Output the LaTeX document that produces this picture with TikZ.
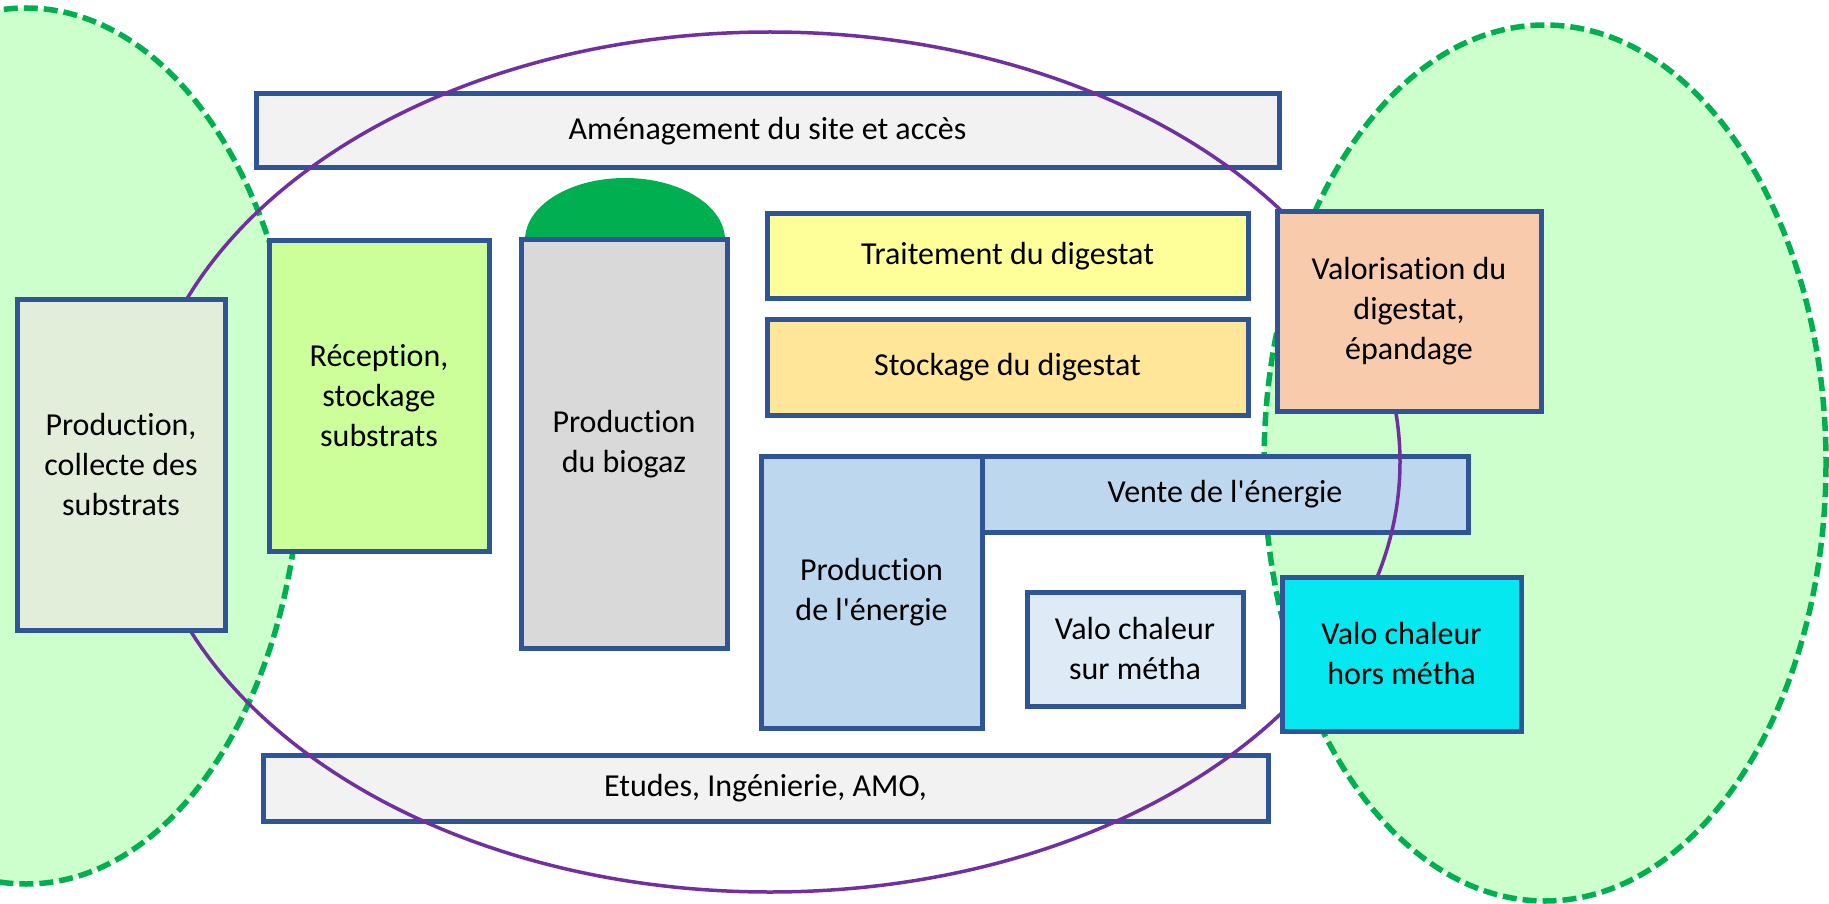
\documentclass[tikz,border=0pt]{standalone}
\usepackage{fontspec}
\newfontfamily\carl{Carlito}[Ligatures=NoCommon]
\definecolor{cGreenFill}{HTML}{CCFFCC}
\definecolor{cGreenLine}{HTML}{00B050}
\definecolor{cPurple}{HTML}{7030A0}
\definecolor{cBorder}{HTML}{2F5597}
\definecolor{cAmen}{HTML}{F2F2F2}
\definecolor{cCollecte}{HTML}{E2EED9}
\definecolor{cRecep}{HTML}{CCFF99}
\definecolor{cBiogaz}{HTML}{D9D9D9}
\definecolor{cDome}{HTML}{00B050}
\definecolor{cTrait}{HTML}{FFFF99}
\definecolor{cStock}{HTML}{FFE699}
\definecolor{cValor}{HTML}{F8CBAD}
\definecolor{cEnergie}{HTML}{BDD7EE}
\definecolor{cValoSur}{HTML}{DEEBF7}
\definecolor{cHors}{HTML}{05E8F0}
\newcommand\boxfont{\carl\fontsize{32}{40}\selectfont}
\tikzset{
  box/.style={draw=cBorder, line width=5pt, inner sep=0pt, align=center, font=\boxfont, text=black},
  zone/.style={fill=cGreenFill, draw=cGreenLine, line width=5.5pt, dash pattern=on 14pt off 6pt},
  site/.style={draw=cPurple, line width=3.5pt}
}
\begin{document}
\begin{tikzpicture}[x=1pt, y=-1pt]
\useasboundingbox (0,0) rectangle (1829,904);
\clip (0,0) rectangle (1829,904);
\fill[white] (0,0) rectangle (1829,904);
% outer zones
\draw[zone] (26,446) ellipse [x radius=275, y radius=438];
\draw[zone] (1545,463) ellipse [x radius=281, y radius=438];
% dome
\fill[cDome] (625,240) ellipse [x radius=100, y radius=62];
% boxes below the site outline
\node[box, fill=cBiogaz, minimum width=206pt, minimum height=408pt] (biogaz) at (624,444) {Production\\du biogaz};
\node[box, fill=cTrait, minimum width=481pt, minimum height=84pt] (trait) at (1007.5,256) {Traitement du digestat};
\node[box, fill=cStock, minimum width=481pt, minimum height=96pt] (stock) at (1007.5,367) {Stockage du digestat};
\node[box, fill=cAmen, minimum width=1023pt, minimum height=74pt] (amen) at (767.5,131) {Aménagement du site et accès};
\node[box, fill=cAmen, minimum width=1005pt, minimum height=66pt] (etudes) at (765.5,788) {Etudes, Ingénierie, AMO,};
\node[box, fill=cEnergie, minimum width=221pt, minimum height=272pt] (prodE) at (871.5,592) {Production\\de l'énergie};
\node[box, fill=cEnergie, minimum width=486pt, minimum height=76pt] (vente) at (1225,494) {Vente de l'énergie};
\node[box, fill=cValoSur, minimum width=216pt, minimum height=114pt] (valosur) at (1135,649) {Valo chaleur\\sur métha};
% site outline
\draw[site] (770,462) ellipse [x radius=630, y radius=430];
% boxes above the site outline
\node[box, fill=cCollecte, minimum width=208pt, minimum height=331pt] (collecte) at (121,464.5) {Production,\\collecte des\\substrats};
\node[box, fill=cRecep, minimum width=220pt, minimum height=310pt] (recep) at (379,396) {Réception,\\stockage\\substrats};
\node[box, fill=cValor, minimum width=264pt, minimum height=199pt] (valor) at (1409,311.5) {Valorisation du\\digestat,\\épandage};
\node[box, fill=cHors, minimum width=239pt, minimum height=154pt] (hors) at (1401.5,654) {Valo chaleur\\hors métha};
\end{tikzpicture}
\end{document}
